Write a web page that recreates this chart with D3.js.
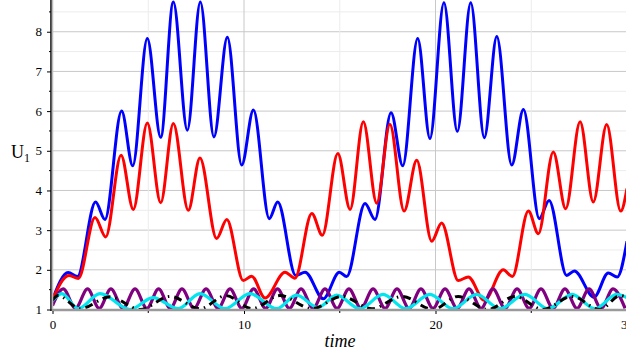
<!DOCTYPE html>
<html><head><meta charset="utf-8">
<script src="https://cdn.jsdelivr.net/npm/d3@7"></script>
<style>body{margin:0;background:#fff}svg{display:block}</style>
</head><body><svg id="c" width="626" height="356"></svg>
<script>
const xTicks = [0, 10, 20, 30];
const xMinor = [5, 15, 25];
const yTicks = [1, 2, 3, 4, 5, 6, 7, 8];
const yMinor = [1.5, 2.5, 3.5, 4.5, 5.5, 6.5, 7.5, 8.5];
const blueT = [0,0.82,1.3,2.25,2.74,3.61,4.19,4.95,5.65,6.31,7.04,7.72,8.43,9.13,9.88,10.49,11.32,11.76,12.7,13.19,14.14,14.98,15.36,16.32,16.84,17.68,18.29,19.07,19.71,20.44,21.14,21.84,22.55,23.2,23.98,24.59,25.42,25.93,26.85,27.25,28.28,29.02,29.49,30];
const blueV = [1.25,1.93,1.83,3.71,3.27,6.0,4.62,7.83,5.34,8.75,5.52,8.75,5.35,7.86,4.64,6.03,3.29,3.71,1.86,1.94,1.27,1.94,1.83,3.67,3.27,5.96,4.62,7.83,5.31,8.73,5.49,8.73,5.33,7.88,4.64,6.04,3.29,3.75,1.86,1.97,1.31,1.92,1.82,2.72];
const redT = [0,0.86,1.35,2.22,2.78,3.58,4.22,4.95,5.65,6.31,7.09,7.7,8.57,9.1,9.96,10.4,11.1,12.14,12.66,13.54,14.09,14.9,15.54,16.23,16.93,17.62,18.36,19.02,19.8,20.32,21.19,21.71,22.55,23.54,24.01,24.85,25.37,26.15,26.8,27.55,28.24,28.94,29.67,30];
const redV = [1.25,1.86,1.78,3.32,2.83,4.89,3.52,5.70,3.69,5.69,3.5,4.82,2.79,3.27,1.73,1.84,1.29,1.94,1.79,3.42,2.87,4.93,3.52,5.73,3.68,5.67,3.48,4.76,2.72,3.18,1.73,1.82,1.23,2.0,1.83,3.48,2.91,4.97,3.54,5.73,3.71,5.66,3.48,4.05];
const purpleT = [0,0.56,1.2,1.83,2.44,3.05,3.68,4.31,4.93,5.54,6.15,6.76,7.39,8.02,8.65,9.27,9.89,10.5,11.13,11.75,12.37,12.98,13.61,14.23,14.86,15.48,16.11,16.74,17.37,17.99,18.62,19.24,19.87,20.5,21.13,21.75,22.38,23.0,23.63,24.26,24.89,25.51,26.14,26.76,27.39,28.02,28.65,29.27,29.9];
const purpleV = [1.1,1.52,1.03,1.52,1.03,1.52,1.03,1.52,1.03,1.52,1.03,1.52,1.03,1.52,1.03,1.52,1.03,1.52,1.03,1.52,1.03,1.52,1.03,1.52,1.03,1.52,1.03,1.52,1.03,1.52,1.03,1.52,1.03,1.52,1.03,1.52,1.03,1.52,1.03,1.52,1.03,1.52,1.03,1.52,1.03,1.52,1.03,1.52,1.03];
const cyanT = [0,0.48,1.35,2.48,4.05,5.25,6.57,7.7,9.01,10.31,11.71,12.75,13.86,14.84,16.05,17.26,18.45,19.71,20.91,22.15,23.37,24.67,25.88,27.13,28.33,29.46,30];
const cyanV = [1.22,1.4,1.02,1.4,1.0,1.3,1.02,1.4,1.02,1.4,1.02,1.36,1.05,1.36,1.02,1.38,1.02,1.38,1.02,1.38,1.02,1.38,1.02,1.38,1.02,1.38,1.3];
const blackT = [0,0.29,1.44,3.0,4.57,6.14,7.7,9.06,10.42,11.88,13.55,15.12,16.68,18.25,19.87,21.18,22.74,24.15,25.61,27.13,28.59,29.64,30];
const blackV = [1.23,1.35,1.02,1.32,1.0,1.33,1.02,1.35,1.02,1.35,1.02,1.33,1.02,1.33,1.0,1.33,1.0,1.33,1.0,1.33,1.0,1.35,1.3];

const svg = d3.select("#c");
const x = d3.scaleLinear().domain([0, 30]).range([52.5, 627]);
const y = d3.scaleLinear().domain([1, 8.8]).range([309.5, 0]);

const grid = svg.append("g");
grid.selectAll(".ym").data(yMinor).join("line").attr("x1", 53).attr("x2", 626).attr("y1", d=>y(d)).attr("y2", d=>y(d)).attr("stroke", "#ececec").attr("stroke-width", 1);
grid.selectAll(".yM").data(yTicks.slice(1)).join("line").attr("x1", 53).attr("x2", 626).attr("y1", d=>y(d)).attr("y2", d=>y(d)).attr("stroke", "#c8c8c8").attr("stroke-width", 1);
grid.selectAll(".xm").data(xMinor).join("line").attr("x1", d=>x(d)).attr("x2", d=>x(d)).attr("y1", 0).attr("y2", 309).attr("stroke", "#ececec").attr("stroke-width", 1);
grid.selectAll(".xM").data(xTicks.slice(1)).join("line").attr("x1", d=>x(d)).attr("x2", d=>x(d)).attr("y1", 0).attr("y2", 309).attr("stroke", "#c8c8c8").attr("stroke-width", 1);

svg.append("clipPath").attr("id", "pc").append("rect").attr("x", 52).attr("y", 0).attr("width", 580).attr("height", 310);
const plot = svg.append("g").attr("clip-path", "url(#pc)");
function series(T, V) { return T.map((t, i) => [t, V[i]]); }
const line = d3.line().x(d=>x(d[0])).y(d=>y(d[1])).curve(d3.curveMonotoneX);
plot.append("path").datum(series(blueT, blueV)).attr("d", line).attr("fill", "none").attr("stroke", "#0000ff").attr("stroke-width", 3);
plot.append("path").datum(series(redT, redV)).attr("d", line).attr("fill", "none").attr("stroke", "#ff0000").attr("stroke-width", 3);
plot.append("path").datum(series(purpleT, purpleV)).attr("d", line).attr("fill", "none").attr("stroke", "#800080").attr("stroke-width", 3.2);
plot.append("path").datum(series(cyanT, cyanV)).attr("d", line).attr("fill", "none").attr("stroke", "#00e5ee").attr("stroke-width", 3.2);
plot.append("path").datum(series(blackT, blackV)).attr("d", line).attr("fill", "none").attr("stroke", "#000").attr("stroke-width", 3).attr("stroke-dasharray", "8,5,1.5,5");

// axes
svg.append("line").attr("x1", 52).attr("x2", 626).attr("y1", 310).attr("y2", 310).attr("stroke", "#9a9a9a").attr("stroke-width", 2.5);
svg.append("line").attr("x1", 51).attr("x2", 51).attr("y1", 0).attr("y2", 311).attr("stroke", "#000").attr("stroke-width", 1.5);
svg.append("line").attr("x1", 52.5).attr("x2", 52.5).attr("y1", 0).attr("y2", 309).attr("stroke", "#bbb").attr("stroke-width", 1.5);

const yAxis = d3.axisLeft(y).tickValues(yTicks).tickSize(4).tickFormat(d3.format("d"));
const ya = svg.append("g").attr("transform", "translate(51,0)").call(yAxis);
ya.select(".domain").remove();
ya.selectAll("text").attr("font-family", "'Liberation Serif', 'Times New Roman', serif").attr("font-size", 13).attr("fill", "#000").attr("dx", -2);
ya.selectAll("line").attr("stroke", "#000");
svg.append("g").selectAll("line").data(yMinor).join("line").attr("x1", 49).attr("x2", 51).attr("y1", d=>y(d)).attr("y2", d=>y(d)).attr("stroke", "#000");

const xAxis = d3.axisBottom(x).tickValues(xTicks).tickSize(3).tickFormat(d3.format("d"));
const xa = svg.append("g").attr("transform", "translate(0,311)").call(xAxis);
xa.select(".domain").remove();
xa.selectAll("text").attr("font-family", "'Liberation Serif', 'Times New Roman', serif").attr("font-size", 13).attr("fill", "#000").attr("dy", "0.9em");
xa.selectAll("line").attr("stroke", "#000");
svg.append("g").selectAll("line").data(xMinor).join("line").attr("x1", d=>x(d)).attr("x2", d=>x(d)).attr("y1", 311).attr("y2", 313).attr("stroke", "#000");

svg.append("text").attr("x", 340).attr("y", 347).attr("text-anchor", "middle").attr("font-family", "'Liberation Serif', 'Times New Roman', serif").attr("font-style", "italic").attr("font-size", 18).text("time");
const ul = svg.append("text").attr("x", 11).attr("y", 158).attr("font-family", "'Liberation Serif', 'Times New Roman', serif").attr("font-size", 18);
ul.append("tspan").text("U");
ul.append("tspan").attr("font-size", 12).attr("dy", 4).text("1");
</script></body></html>
